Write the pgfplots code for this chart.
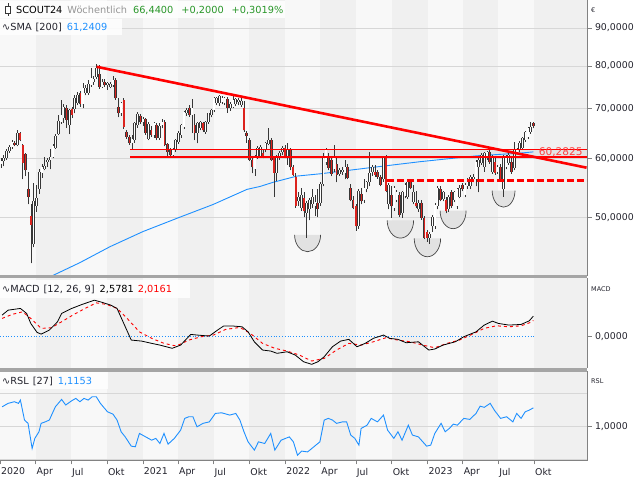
\documentclass[border=0pt]{standalone}
\usepackage{pgfplots}
\pgfplotsset{compat=1.18}
\usepackage{pgfplotstable}
\usepackage{fontspec}
\setmainfont{DejaVu Sans}

\definecolor{bgA}{RGB}{248,248,248}
\definecolor{bgB}{RGB}{240,240,240}
\definecolor{gridc}{RGB}{215,215,215}
\definecolor{framec}{RGB}{130,130,130}
\definecolor{sepc}{RGB}{165,165,165}
\definecolor{candleline}{RGB}{55,55,55}
\definecolor{candlered}{RGB}{220,35,30}
\definecolor{trendred}{RGB}{255,0,0}
\definecolor{smablue}{RGB}{30,144,255}
\definecolor{txtgreen}{RGB}{40,150,40}
\definecolor{txtgray}{RGB}{150,150,150}
\definecolor{txtdark}{RGB}{35,35,45}
\definecolor{cupfill}{RGB}{226,226,226}
\definecolor{cupline}{RGB}{70,70,70}
\definecolor{bandfill}{RGB}{228,228,228}

\newcommand{\fs}{\fontsize{9.4}{11}\selectfont}
\newcommand{\fsl}{\fontsize{9.8}{11}\selectfont}
\newcommand{\fsr}{\fontsize{10.6}{12}\selectfont}
\newcommand{\fss}{\fontsize{6.5}{8}\selectfont}
\newcommand{\band}[4]{\fill[bgB] (axis cs:#1,#3) rectangle (axis cs:#2,#4);}
\newcommand{\stripes}[2]{%
  \fill[bgA] (axis cs:-0.37,#1) rectangle (axis cs:214.65,#2);
  \band{12.71}{25.71}{#1}{#2}\band{38.86}{52.0}{#1}{#2}\band{64.86}{77.86}{#1}{#2}\band{91.0}{104.14}{#1}{#2}%
  \band{117.0}{130.0}{#1}{#2}\band{143.14}{156.29}{#1}{#2}\band{169.14}{182.14}{#1}{#2}\band{195.29}{214.65}{#1}{#2}}
\newcommand{\gridline}[1]{\draw[gridc, line width=0.8bp] (axis cs:-0.37,#1) -- (axis cs:214.65,#1);}
% half-ellipse "cup": left x, top y, ctrl-left x, centre x, ctrl-right x, right x, ctrl y, bottom y
\newcommand{\cupshape}[8]{%
  \fill[cupfill] (axis cs:#1,#2) .. controls (axis cs:#1,#7) and (axis cs:#3,#8) .. (axis cs:#4,#8)
     .. controls (axis cs:#5,#8) and (axis cs:#6,#7) .. (axis cs:#6,#2) -- cycle;
  \draw[cupline, line width=0.7bp] (axis cs:#1,#2) .. controls (axis cs:#1,#7) and (axis cs:#3,#8) .. (axis cs:#4,#8)
     .. controls (axis cs:#5,#8) and (axis cs:#6,#7) .. (axis cs:#6,#2);}

\pgfplotstableread{
w o h l c
0 59.0 60.0 58.3 59.5
1 59.5 60.6 58.6 60.0
2 60.0 61.8 59.8 61.4
3 61.4 62.6 61.0 62.2
4 62.2 63.5 61.8 63.2
5 63.0 63.3 62.3 62.5
6 62.5 65.6 62.3 64.9
7 64.9 65.2 63.3 63.6
8 62.6 62.8 56.2 59.2
9 60.8 61.0 56.8 57.8
10 54.5 57.6 52.0 53.3
11 50.2 52.0 43.3 48.8
12 46.0 55.6 45.5 52.5
13 51.8 55.3 50.8 53.1
14 54.6 58.0 53.8 57.5
15 57.4 59.0 56.5 58.5
16 58.0 60.2 57.8 58.6
17 59.3 60.0 58.5 59.7
18 59.7 61.8 58.0 60.3
19 60.2 62.8 60.0 62.3
20 62.0 64.8 61.8 64.3
21 64.8 68.7 64.5 67.4
22 67.2 72.0 66.8 68.6
23 68.0 71.0 67.0 70.5
24 70.3 70.8 66.0 67.6
25 66.5 70.0 64.7 69.7
26 70.0 70.5 68.0 68.7
27 70.0 73.0 69.0 72.3
28 71.3 73.8 70.8 73.1
29 73.5 74.0 70.5 71.0
30 71.0 75.9 70.1 74.6
31 73.5 75.5 73.0 74.7
32 73.5 76.5 73.2 75.6
33 75.4 79.4 75.0 77.0
34 76.2 77.5 75.5 76.7
35 77.2 80.4 76.8 79.4
36 78.0 80.2 74.5 75.0
37 75.0 76.8 74.8 76.0
38 76.0 76.8 75.0 75.3
39 75.3 76.2 74.3 75.8
40 74.9 76.0 74.6 75.6
41 75.4 77.5 75.0 76.6
42 76.5 77.0 72.0 72.3
43 70.4 72.3 68.2 69.0
44 69.0 71.6 68.5 71.2
45 72.0 72.4 65.8 66.1
46 65.2 65.5 63.8 64.2
47 64.2 64.5 62.6 63.0
48 63.0 64.5 61.6 63.8
49 63.5 67.3 63.0 66.9
50 66.5 69.4 66.0 68.9
51 68.5 68.9 66.8 67.1
52 67.1 68.2 66.4 67.8
53 67.8 68.0 64.6 64.9
54 63.8 67.2 63.5 66.7
55 65.6 66.3 64.2 64.5
56 64.5 67.2 64.0 66.9
57 66.5 67.0 63.5 63.9
58 64.0 66.9 63.6 66.3
59 66.5 67.8 65.9 67.3
60 67.2 67.6 62.3 62.6
61 62.8 63.0 60.1 61.2
62 61.6 62.0 60.2 60.6
63 60.6 62.0 60.2 61.6
64 61.6 63.8 61.3 63.5
65 63.2 65.3 62.8 65.0
66 64.5 66.8 64.0 66.5
67 66.2 69.6 65.8 69.3
68 69.0 70.2 68.5 69.8
69 70.2 70.8 68.3 68.7
70 68.7 72.1 64.9 70.3
71 66.6 68.8 63.5 64.9
72 64.9 67.2 62.9 66.9
73 66.0 67.5 65.5 67.1
74 66.9 67.3 65.2 65.5
75 65.2 67.5 64.8 67.1
76 67.2 69.2 66.8 69.0
77 68.6 70.0 68.2 69.8
78 69.7 72.6 69.3 72.3
79 71.2 72.7 70.8 72.3
80 71.2 73.0 70.7 72.8
81 71.4 72.9 71.0 72.5
82 71.3 72.7 70.8 72.3
83 72.1 72.6 69.2 70.3
84 70.3 71.5 69.6 71.0
85 70.5 72.9 70.2 71.9
86 71.0 72.5 70.6 72.1
87 71.5 72.3 70.8 71.9
88 70.9 72.3 70.5 71.8
89 70.3 71.7 65.2 65.5
90 64.9 65.3 63.0 64.3
91 63.5 64.0 59.5 59.8
92 59.7 60.2 57.3 58.4
93 58.0 60.6 56.9 60.3
94 60.4 62.3 59.9 62.0
95 60.5 62.5 60.2 62.2
96 61.1 61.8 60.0 60.4
97 61.6 63.2 61.2 63.0
98 62.8 65.9 62.5 63.6
99 63.5 64.0 59.5 59.7
100 60.2 60.5 53.3 57.4
101 57.4 60.6 55.9 60.3
102 60.2 61.5 59.8 61.1
103 61.2 62.3 60.6 62.0
104 62.0 62.6 60.0 60.4
105 60.5 63.0 58.8 61.8
106 61.8 62.0 57.8 58.4
107 58.4 58.8 56.8 57.0
108 56.6 57.3 51.5 51.7
109 52.5 54.0 51.8 53.3
110 51.5 54.8 51.0 53.5
111 53.0 54.0 50.0 50.9
112 50.7 52.6 46.9 52.3
113 51.2 53.0 49.5 52.8
114 52.0 54.5 51.5 53.3
115 51.8 53.5 50.1 52.4
116 52.3 54.5 50.0 51.3
117 52.3 55.8 51.8 55.4
118 55.4 61.0 55.0 60.4
119 59.3 62.0 58.8 61.6
120 60.4 61.0 57.8 58.3
121 59.8 60.5 56.8 57.2
122 58.0 62.6 57.5 60.3
123 59.0 60.2 55.7 57.0
124 57.2 58.2 56.8 57.8
125 57.6 58.4 57.0 57.9
126 57.4 59.7 56.2 58.5
127 58.5 58.9 56.2 56.5
128 54.7 55.5 52.5 52.8
129 52.8 53.4 51.2 51.5
130 51.7 52.0 47.9 48.6
131 48.6 54.6 48.2 54.3
132 53.8 54.8 52.0 52.5
133 52.8 56.2 52.3 54.8
134 54.5 56.0 54.0 55.8
135 55.7 61.3 55.0 57.4
136 57.6 58.8 56.9 58.5
137 57.6 58.8 56.7 57.0
138 57.6 57.9 56.3 56.7
139 56.7 57.0 55.0 55.3
140 56.2 60.5 55.8 60.1
141 60.1 60.6 54.0 54.3
142 52.0 55.6 51.2 55.3
143 53.6 55.0 49.9 51.7
144 51.5 55.0 51.0 54.8
145 52.8 54.4 52.4 54.0
146 53.6 54.0 50.0 50.4
147 50.6 54.2 49.9 54.0
148 53.4 55.6 53.0 55.3
149 53.3 56.0 52.9 55.8
150 55.8 56.2 54.5 54.8
151 52.4 55.3 52.0 54.0
152 52.3 54.2 51.5 51.7
153 51.2 52.8 50.8 52.3
154 52.3 52.7 49.6 49.9
155 49.9 50.2 46.7 46.9
156 47.7 48.0 46.3 46.9
157 46.9 47.8 46.0 47.5
158 48.6 50.3 47.8 50.0
159 48.6 52.2 48.2 51.9
160 51.7 55.0 51.2 54.7
161 54.5 55.0 52.5 52.8
162 52.9 54.3 52.5 54.0
163 52.8 53.3 50.6 50.9
164 51.2 53.6 50.8 53.3
165 54.0 54.4 51.4 51.7
166 52.8 54.3 52.4 54.0
167 51.7 54.8 51.3 54.5
168 53.3 55.2 53.0 54.8
169 55.2 55.6 54.2 54.5
170 53.6 55.6 53.2 55.3
171 55.0 56.5 54.6 56.2
172 55.0 57.0 54.6 56.7
173 56.2 57.2 55.7 56.7
174 56.2 59.7 55.0 59.4
175 58.5 60.4 54.0 59.7
176 59.2 61.0 58.8 60.7
177 58.5 61.3 57.6 61.1
178 60.2 61.5 59.8 61.3
179 61.3 61.6 59.0 59.4
180 57.6 60.6 57.2 60.4
181 59.4 60.0 57.0 57.4
182 57.6 58.8 57.2 58.5
183 58.5 58.9 55.9 56.2
184 54.5 60.6 53.3 60.4
185 58.5 60.6 58.0 60.2
186 59.2 61.0 58.8 60.7
187 59.4 60.0 57.2 57.6
188 58.3 63.2 57.8 61.6
189 61.1 62.0 60.8 61.6
190 61.6 63.3 61.2 63.0
191 62.0 64.2 61.7 63.9
192 63.6 65.4 63.2 65.1
193 64.1 66.1 63.8 65.9
194 65.1 67.2 64.8 66.24
195 66.9 67.3 65.9 66.44
}\candles

\pgfplotsset{panel/.style={scale only axis, width=587bp, xmin=-0.37, xmax=214.65,
  axis line style={draw=framec, line width=1bp}, xtick=\empty,
  ytick pos=right, yticklabel pos=right, tick align=outside, major tick length=4.5bp,
  tick style={draw=framec, line width=0.8bp},
  yticklabel style={font=\fs, text=txtdark}},
  candle/.style={only marks, mark=none, mark size=0pt,
  every mark/.append style={draw=none, fill=none}, forget plot,
  error bars/.cd, y dir=plus, y explicit, error mark=none}}

\begin{document}
\begin{tikzpicture}
\useasboundingbox (0,0) rectangle (640bp,480bp);
\fill[white] (0,0) rectangle (640bp,480bp);

% ---------------- main price panel ----------------
\begin{axis}[panel, at={(0,204.5bp)}, anchor=south west, height=275.5bp,
  ymode=log, ymin=41.7, ymax=98.2,
  ytick={50,60,70,80,90}, yticklabels={{50,0000},{60,0000},{70,0000},{80,0000},{90,0000}}]
\stripes{41.7}{98.2}
\gridline{50}\gridline{60}\gridline{70}\gridline{80}\gridline{90}
\cupshape{107.54}{47.3}{109.67}{112.3}{114.93}{117.06}{45.96}{44.9}
\cupshape{141.46}{49.5}{143.63}{146.3}{148.97}{151.14}{48.01}{46.84}
\cupshape{151.36}{46.8}{153.53}{156.2}{158.87}{161.04}{45.35}{44.20}
\cupshape{160.84}{51.0}{162.97}{165.6}{168.23}{170.36}{49.45}{48.23}
\cupshape{179.92}{54.3}{181.79}{184.1}{186.41}{188.28}{52.77}{51.57}
\fill[bandfill] (axis cs:47.3,60.2825) rectangle (axis cs:214.65,61.75);
% SMA 200
\addplot[smablue, line width=0.9bp] coordinates {(14.3,41.0) (19.0,41.7) (28.9,43.4) (39.9,45.6) (52.0,47.8) (65.6,50.0) (77.7,52.0) (90.1,54.5) (94.9,55.0) (99.6,55.7) (108.4,56.8) (116.8,57.2) (135.2,58.3) (153.5,59.4) (174.4,60.5) (190.1,61.0) (195.0,61.24)};
% candle wicks
\addplot[candle, error bar style={candleline, line width=0.75bp}]
  table[x=w, y=l, y error expr={\thisrow{h}-\thisrow{l}}] {\candles};
% candle bodies outline
\addplot[candle, error bar style={candleline, line width=2.6bp}]
  table[x=w, y expr={min(\thisrow{o},\thisrow{c})}, y error expr={abs(\thisrow{c}-\thisrow{o})}] {\candles};
% up bodies (white)
\addplot[candle, error bar style={white, line width=1.3bp}]
  table[x=w, y=o, y error expr={max(\thisrow{c}-\thisrow{o},0)}] {\candles};
% down bodies (red)
\addplot[candle, error bar style={candlered, line width=1.3bp}]
  table[x=w, y=c, y error expr={max(\thisrow{o}-\thisrow{c},0)}] {\candles};
% support lines
\addplot[trendred, line width=1.2bp] coordinates {(47.3,61.75) (214.65,61.75)};
\addplot[trendred, line width=1.2bp] coordinates {(47.3,60.2825) (214.65,60.2825)};
\addplot[trendred, line width=2.4bp, dash pattern=on 7.3bp off 2.7bp] coordinates {(141.3,56.0) (214.65,56.0)};
% trend line
\addplot[trendred, line width=2.6bp] coordinates {(35.05,79.8) (214.5,58.3)};
\node[anchor=east, text=trendred!75, inner sep=0.5bp, font=\fsr] at (axis cs:213.3,61.15) {60,2825};
\end{axis}

% ---------------- MACD panel ----------------
\begin{axis}[panel, at={(0,112.3bp)}, anchor=south west, height=89.4bp,
  ymin=-3.99, ymax=7.40, ytick={0,10}, yticklabels={{0,0000},{}}]
\stripes{-3.99}{7.40}
\addplot[smablue, line width=0.8bp, dotted] coordinates {(-0.37,0) (195.8,0)};
\addplot[trendred, line width=0.9bp, dash pattern=on 3bp off 3bp] coordinates {
(0.4,2.29) (4.1,2.80) (7.9,3.13) (10.9,2.29) (14.7,1.02) (18.4,1.09) (22.2,1.86) (26.7,2.80) (31.2,3.63) (34.9,4.27) (38.7,4.07) (42.5,3.56) (46.2,2.29) (50.7,0.58) (55.2,-0.25) (59.7,-0.89) (64.2,-1.23) (68.8,-0.47) (73.3,-0.05) (77.8,0.17) (82.3,0.89) (87.5,1.14) (91.3,0.38) (95.8,-0.89) (100.3,-1.52) (104.8,-1.87) (109.3,-2.38) (113.8,-3.14) (118.4,-2.80) (122.9,-1.74) (127.4,-0.89) (131.9,-1.11) (136.4,-0.69) (140.9,-0.18) (145.4,-0.47) (149.9,-0.69) (154.4,-1.11) (158.9,-1.45) (163.4,-0.89) (167.9,-0.47) (172.5,0.25) (177.0,1.02) (181.5,1.35) (186.0,1.22) (190.5,1.35) (194.3,1.82) (195.0,2.02)};
\addplot[black, line width=0.8bp] coordinates {
(0.4,2.71) (2.6,3.34) (7.1,3.56) (9.4,2.92) (10.9,1.65) (13.2,0.51) (14.7,0.29) (17.7,0.80) (20.7,1.86) (22.2,2.92) (25.9,3.56) (29.7,4.07) (34.2,4.61) (37.2,4.32) (40.2,3.98) (42.5,3.56) (44.7,1.86) (47.7,-0.47) (51.5,-0.60) (55.2,-0.89) (58.2,-1.11) (62.7,-1.52) (65.8,-1.11) (69.5,0.25) (71.8,0.17) (76.3,0.04) (79.3,0.80) (81.5,1.31) (85.3,1.31) (88.3,1.22) (90.5,0.58) (92.8,-0.69) (95.8,-1.74) (98.8,-1.87) (101.1,-2.16) (104.8,-1.96) (107.8,-2.38) (110.8,-3.23) (113.8,-3.56) (116.1,-3.23) (118.4,-2.59) (121.4,-1.32) (124.4,-0.60) (127.4,-0.38) (130.4,-1.32) (133.4,-0.89) (136.4,-0.25) (140.1,0.17) (142.4,-0.25) (145.4,-0.38) (148.4,-0.81) (152.9,-0.69) (156.7,-1.74) (158.9,-1.61) (161.9,-1.11) (166.4,-0.69) (169.5,-0.05) (174.0,0.58) (177.0,1.44) (180.0,1.94) (182.2,1.65) (186.0,1.44) (190.5,1.52) (193.5,1.98) (195.0,2.58)};
\end{axis}

% ---------------- RSL panel ----------------
\begin{axis}[panel, at={(0,20bp)}, anchor=south west, height=88bp,
  ymin=0.799, ymax=1.332, ytick={1,2}, yticklabels={{1,0000},{}},
  xtick={-0.29,12.71,25.71,38.86,52.0,64.86,77.86,91.0,104.14,117.0,130.0,143.14,156.29,169.14,182.14,195.29},
  xticklabels={2020,Apr,Jul,Okt,2021,Apr,Jul,Okt,2022,Apr,Jul,Okt,2023,Apr,Jul,Okt},
  xtick pos=bottom,
  xticklabel style={font=\fs, text=txtdark, anchor=north west, xshift=-2.5bp}]
\stripes{0.799}{1.332}
\gridline{0.8}\gridline{1.0}\gridline{1.2}
\addplot[smablue, line width=0.9bp] coordinates {
(0.4,1.121) (2.6,1.142) (4.9,1.152) (6.4,1.142) (7.1,1.162) (8.6,1.041) (9.9,1.021) (11.4,0.869) (12.4,0.930) (13.9,0.970) (14.7,1.021) (16.2,1.030) (17.7,1.041) (19.9,1.121) (22.2,1.166) (23.7,1.132) (25.9,1.158) (27.4,1.172) (28.9,1.152) (30.4,1.172) (31.9,1.162) (33.4,1.182) (34.9,1.182) (36.4,1.142) (39.0,1.091) (41.0,1.077) (42.5,1.041) (44.0,0.970) (45.5,0.939) (47.7,0.883) (49.2,0.879) (50.7,0.960) (53.0,0.939) (55.2,0.919) (56.7,0.930) (58.2,0.899) (59.7,0.960) (61.2,0.895) (63.5,0.930) (65.8,0.980) (67.3,1.051) (68.8,1.061) (70.3,1.061) (71.8,1.000) (74.0,1.021) (76.3,1.030) (78.5,1.081) (80.8,1.085) (83.8,1.071) (86.0,1.081) (87.5,1.041) (89.0,0.970) (90.5,0.909) (92.8,0.859) (94.3,0.909) (96.6,0.899) (98.8,0.960) (100.3,0.859) (102.6,0.919) (105.6,0.939) (107.1,0.909) (108.6,0.828) (110.1,0.853) (112.3,0.848) (114.6,0.879) (116.8,0.909) (118.4,1.041) (119.9,1.051) (121.4,1.041) (122.9,1.021) (125.1,1.030) (126.6,1.030) (128.1,0.950) (129.6,0.930) (131.1,0.889) (131.9,0.990) (134.1,1.010) (135.6,1.051) (137.9,1.030) (140.1,1.071) (141.6,0.980) (143.9,0.930) (145.4,0.970) (146.9,0.919) (149.2,1.010) (150.7,0.950) (152.9,0.939) (155.9,0.883) (157.4,0.889) (158.9,0.960) (161.2,1.021) (162.7,0.970) (164.2,0.990) (165.7,1.016) (167.2,1.010) (169.5,1.051) (171.7,1.045) (174.0,1.081) (175.5,1.125) (177.0,1.118) (179.2,1.142) (180.7,1.101) (183.0,1.051) (185.2,1.061) (187.5,1.030) (188.9,1.081) (190.5,1.051) (192.0,1.091) (193.5,1.101) (195.0,1.115)};
\end{axis}

% panel separators
\fill[sepc] (0,201.7bp) rectangle (587bp,204.5bp);
\fill[sepc] (0,108bp) rectangle (587bp,112.3bp);

% overlay legends
\fill[white, opacity=0.85] (0,462bp) rectangle (285bp,479bp);
\fill[white, opacity=0.85] (0,445bp) rectangle (122bp,461bp);
\fill[white, opacity=0.85] (0,182bp) rectangle (190bp,200bp);
\fill[white, opacity=0.85] (0,91bp) rectangle (108bp,108bp);
\draw[candleline, line width=0.8bp] (8bp,464bp) -- (8bp,477bp);
\draw[candleline, fill=white, line width=0.8bp] (5.5bp,467bp) rectangle (10.5bp,474bp);
\node[anchor=west, inner sep=0] at (16bp,470bp) {\fsl SCOUT24\hspace{5bp}{\color{txtgray}Wöchentlich}\hspace{6bp}{\color{txtgreen}66,4400\hspace{8bp}+0,2000\hspace{8bp}+0,3019\%}};
\node[anchor=west, inner sep=0, text=txtdark] at (2bp,453bp) {\fsl ∿SMA\hspace{4bp}[200]\hspace{5bp}{\color{smablue}61,2409}};
\node[anchor=west, inner sep=0, text=txtdark] at (2bp,191bp) {\fsl ∿MACD\hspace{4bp}[12, 26, 9]\hspace{5bp}{\color{black}2,5781}\hspace{4bp}{\color{trendred}2,0161}};
\node[anchor=west, inner sep=0, text=txtdark] at (2bp,99bp) {\fsl ∿RSL\hspace{4bp}[27]\hspace{5bp}{\color{smablue}1,1153}};
\node[anchor=west, inner sep=0, text=txtdark] at (591bp,470bp) {\fss €};
\node[anchor=west, inner sep=0, text=txtdark] at (591bp,191bp) {\fss MACD};
\node[anchor=west, inner sep=0, text=txtdark] at (591bp,99bp) {\fss RSL};
\end{tikzpicture}
\end{document}
